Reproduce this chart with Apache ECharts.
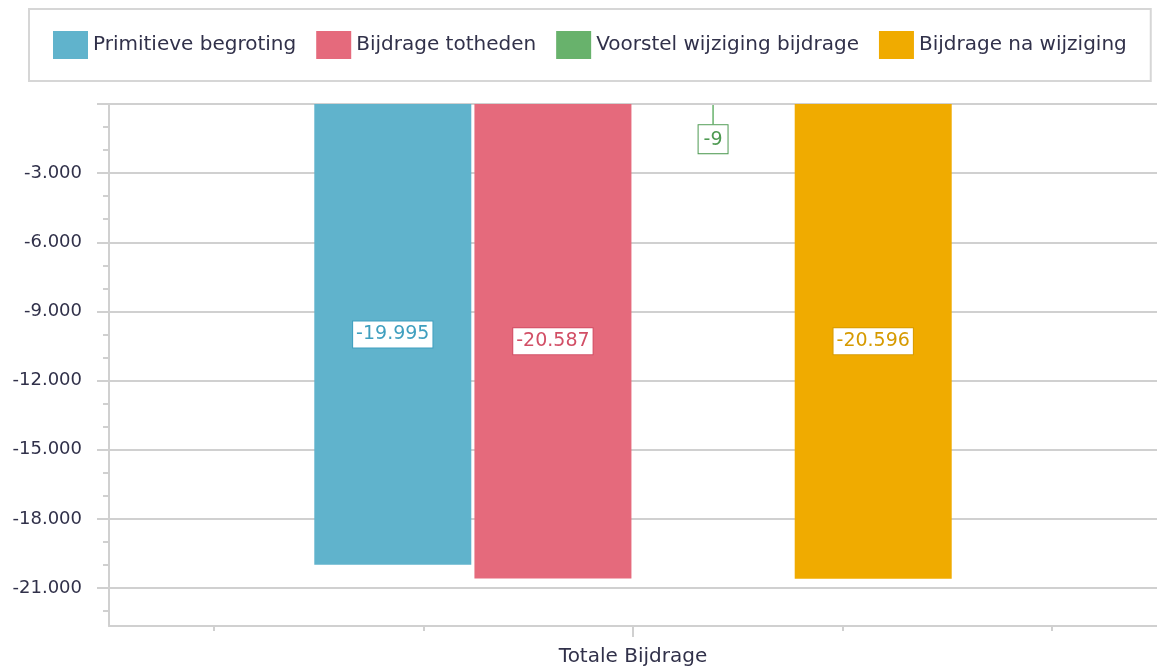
<!DOCTYPE html>
<html>
<head>
<meta charset="utf-8">
<script src="https://cdn.jsdelivr.net/npm/echarts@6/dist/echarts.min.js"></script>
<style>
  html, body { margin: 0; padding: 0; background: #fff; }
  #chart { width: 1157px; height: 670px; }
</style>
</head>
<body>
<div id="chart"></div>
<script>
const categories = ['Totale Bijdrage']
const seriesNames = ['Primitieve begroting', 'Bijdrage totheden', 'Voorstel wijziging bijdrage', 'Bijdrage na wijziging']
const primitieve = [-19995]
const totheden = [-20587]
const voorstel = [-9]
const naWijziging = [-20596]
const yLabelTicks = [-3000, -6000, -9000, -12000, -15000, -18000, -21000]
const yMajorTicks = [0, -3000, -6000, -9000, -12000, -15000, -18000, -21000]
const yMinorTicks = [-1000, -2000, -4000, -5000, -7000, -8000, -10000, -11000, -13000, -14000, -16000, -17000, -19000, -20000, -22000]
const xMajorTicks = [5]
const xMinorTicks = [1, 3, 7, 9]

const colors = ['#60b3cc', '#e56a7c', '#68b26c', '#f0ab00']
const textColors = ['#3f9fbf', '#d24f66', '#4e9a52', '#d69a00']
const fontFamily = '"DejaVu Sans", sans-serif'
const lineGray = '#d0d0d0'

// plot box
const gridLeft = 109, gridRight = 0, gridTop = 104, gridBottom = 44
const plotW = 1157 - gridLeft - gridRight
const plotH = 670 - gridTop - gridBottom

function fmt (v) {
  const s = Math.abs(v).toString().replace(/\B(?=(\d{3})+(?!\d))/g, '.')
  return (v < 0 ? '-' : '') + s
}

function barLabel (i) {
  return {
    show: true,
    position: 'inside',
    formatter: p => fmt(p.value),
    color: textColors[i],
    fontFamily: fontFamily,
    fontSize: 19,
    backgroundColor: '#fff',
    borderColor: textColors[i],
    borderWidth: 1,
    padding: [4, 3, 3, 3]
  }
}

// extra tick-only x axis drawn on the bottom edge
function bottomTicks (values, len) {
  return {
    type: 'value',
    position: 'top',
    offset: -plotH,
    min: 0,
    max: 10,
    axisLine: { show: false, onZero: false },
    axisTick: { show: true, inside: true, customValues: values, length: len, lineStyle: { color: lineGray, width: 2 } },
    axisLabel: { show: false },
    splitLine: { show: false }
  }
}

const yMin = -22650
const yMax = 0

const option = {
  animation: false,
  legend: {
    left: 29,
    top: 9,
    padding: [22, 24, 22, 24],
    borderColor: '#d6d6d6',
    borderWidth: 2,
    itemWidth: 35,
    itemHeight: 28,
    itemGap: 20,
    icon: 'rect',
    textStyle: { fontFamily: fontFamily, fontSize: 20, color: '#31314a' },
    data: seriesNames
  },
  grid: { left: gridLeft, right: gridRight, top: gridTop, bottom: gridBottom, containLabel: false },
  xAxis: [
    {
      type: 'category',
      data: categories,
      axisLine: { onZero: false, lineStyle: { color: lineGray, width: 2 } },
      axisTick: { show: false },
      axisLabel: { fontFamily: fontFamily, fontSize: 20, color: '#31314a', margin: 21 }
    },
    bottomTicks(xMajorTicks, 11),
    bottomTicks(xMinorTicks, 5)
  ],
  yAxis: [
    {
      type: 'value',
      min: yMin,
      max: yMax,
      axisLine: { show: true, onZero: false, lineStyle: { color: lineGray, width: 2 } },
      axisTick: { show: true, customValues: yMajorTicks, length: 12, lineStyle: { color: lineGray, width: 2 } },
      axisLabel: {
        customValues: yLabelTicks,
        formatter: v => fmt(v),
        fontFamily: fontFamily,
        fontSize: 18,
        color: '#31314a',
        margin: 27
      },
      splitLine: { show: true, lineStyle: { color: lineGray, width: 2 } }
    },
    {
      // minor ticks along the left edge
      type: 'value',
      position: 'right',
      offset: -plotW,
      min: yMin,
      max: yMax,
      axisLine: { show: false, onZero: false },
      axisTick: { show: true, inside: true, customValues: yMinorTicks, length: 6, lineStyle: { color: lineGray, width: 2 } },
      axisLabel: { show: false },
      splitLine: { show: false }
    }
  ],
  series: [
    {
      name: seriesNames[0],
      type: 'bar',
      data: primitieve,
      barWidth: 157,
      barGap: '2%',
      itemStyle: { color: colors[0] },
      label: barLabel(0)
    },
    {
      name: seriesNames[1],
      type: 'bar',
      data: totheden,
      barWidth: 157,
      barGap: '2%',
      itemStyle: { color: colors[1] },
      label: barLabel(1)
    },
    {
      name: seriesNames[2],
      type: 'bar',
      z: -1,
      data: voorstel,
      barWidth: 157,
      barGap: '2%',
      itemStyle: { color: colors[2] },
      label: Object.assign(barLabel(2), { position: 'bottom', distance: 21, padding: [5, 5, 4, 5] }),
      labelLayout: { moveOverlap: false },
      labelLine: { show: true, lineStyle: { color: colors[2], width: 1.5 } }
    },
    {
      name: seriesNames[3],
      type: 'bar',
      data: naWijziging,
      barWidth: 157,
      barGap: '2%',
      itemStyle: { color: colors[3] },
      label: barLabel(3)
    }
  ]
}

const chart = echarts.init(document.getElementById('chart'), null, { renderer: 'canvas' })
chart.setOption(option)
</script>
</body>
</html>
